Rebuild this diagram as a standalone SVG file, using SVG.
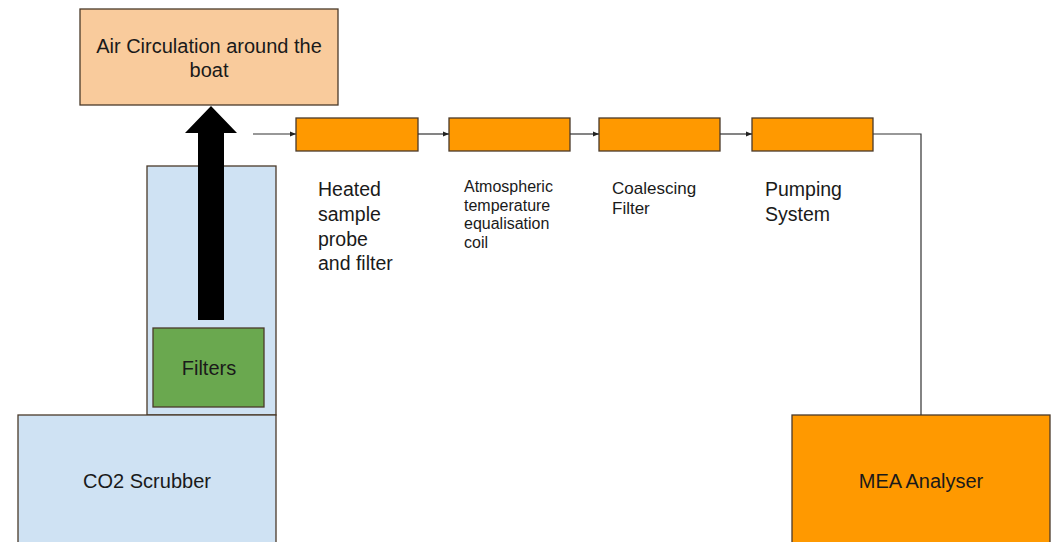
<svg xmlns="http://www.w3.org/2000/svg" width="1053" height="542" viewBox="0 0 1053 542" font-family="'Liberation Sans', Arial, Helvetica, sans-serif">
<style>
text{fill:#1a1a1a}
.box{stroke:#4a3a2a;stroke-width:1.3}
.orange{fill:#ff9900}
.blue{fill:#cfe2f3}
.conn{stroke:#333;stroke-width:1.2;fill:none}
.c{text-anchor:middle}
</style>
<defs>
<marker id="ah" viewBox="0 0 10 10" refX="10" refY="5" markerWidth="6" markerHeight="6" orient="auto" markerUnits="userSpaceOnUse">
<path d="M0,1 L10,5 L0,9 z" fill="#222"/>
</marker>
</defs>
<rect width="1053" height="542" fill="#fff"/>
<g id="air">
<rect class="box" x="80" y="9" width="258" height="96" fill="#f9cb9c"/>
<text class="c" x="209" y="53" font-size="20">Air Circulation around the</text>
<text class="c" x="209" y="77" font-size="20">boat</text>
</g>
<g id="scrubber-column">
<rect class="box blue" x="147" y="166" width="129" height="249"/>
</g>
<g id="co2">
<rect class="box blue" x="18" y="415" width="258" height="140"/>
<text class="c" x="147" y="488" font-size="20">CO2 Scrubber</text>
</g>
<g id="filters">
<rect class="box" x="153" y="328" width="111" height="79" fill="#6aa84f"/>
<text class="c" x="209" y="375" font-size="20">Filters</text>
</g>
<g id="bigarrow">
<polygon points="198,320 224,320 224,133 237,133 211,106 185,133 198,133" fill="#000"/>
</g>
<g id="heated">
<rect class="box orange" x="296" y="118" width="122" height="33"/>
<text x="318" y="196" font-size="19.5">Heated</text>
<text x="318" y="221" font-size="19.5">sample</text>
<text x="318" y="245.5" font-size="19.5">probe</text>
<text x="318" y="270" font-size="19.5">and filter</text>
</g>
<g id="coil">
<rect class="box orange" x="449" y="118" width="121" height="33"/>
<text x="464" y="192" font-size="16">Atmospheric</text>
<text x="464" y="210.5" font-size="16">temperature</text>
<text x="464" y="229" font-size="16">equalisation</text>
<text x="464" y="247.5" font-size="16">coil</text>
</g>
<g id="coalescing">
<rect class="box orange" x="599" y="118" width="121" height="33"/>
<text x="612" y="193.5" font-size="17">Coalescing</text>
<text x="612" y="213.5" font-size="17">Filter</text>
</g>
<g id="pumping">
<rect class="box orange" x="752" y="118" width="121" height="33"/>
<text x="765" y="196" font-size="19.5">Pumping</text>
<text x="765" y="221" font-size="19.5">System</text>
</g>
<g id="mea">
<rect class="box orange" x="792" y="415" width="258" height="140"/>
<text class="c" x="921" y="488" font-size="20">MEA Analyser</text>
</g>
<g id="connectors">
<line class="conn" x1="253" y1="134" x2="296" y2="134" marker-end="url(#ah)"/>
<line class="conn" x1="418" y1="134" x2="449" y2="134" marker-end="url(#ah)"/>
<line class="conn" x1="570" y1="134" x2="599" y2="134" marker-end="url(#ah)"/>
<line class="conn" x1="720" y1="134" x2="752" y2="134" marker-end="url(#ah)"/>
<polyline class="conn" points="873,134 921,134 921,415"/>
</g>
</svg>
